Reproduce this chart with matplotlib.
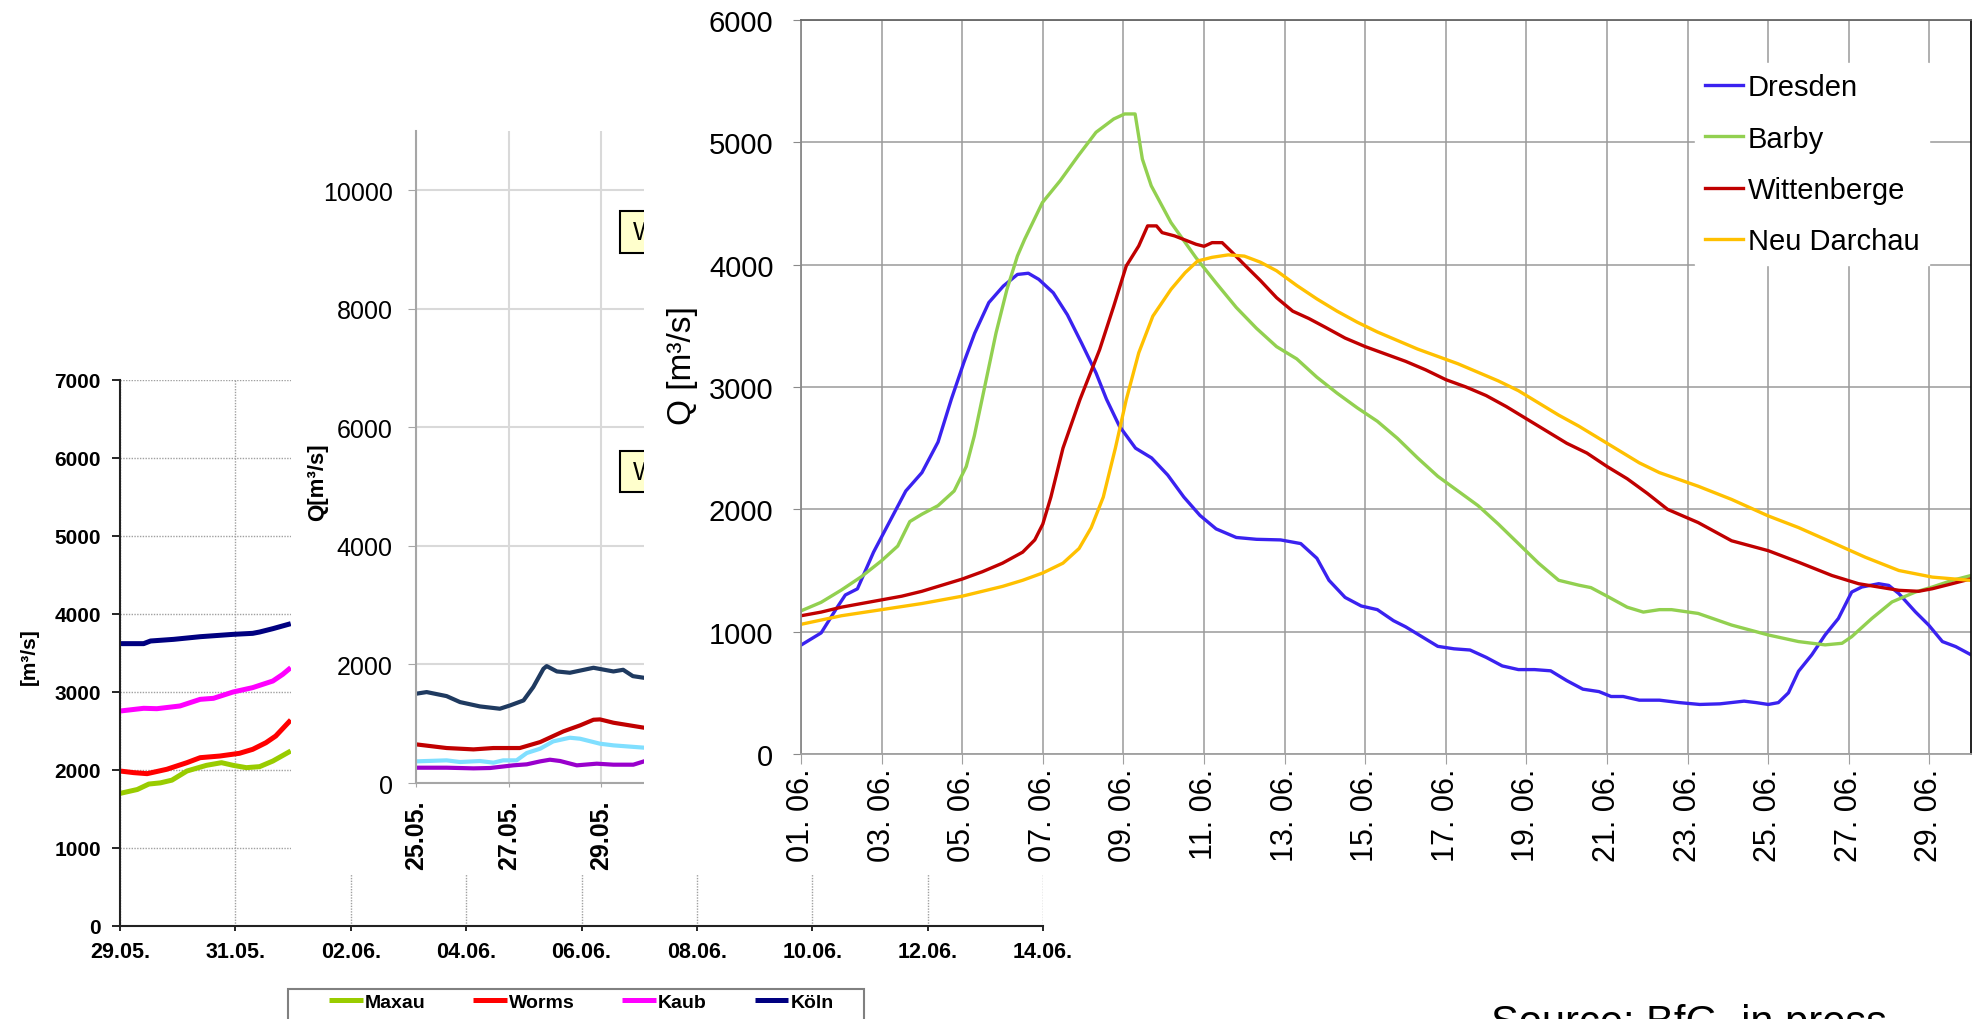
"""Composite of three flood hydrographs (Rhine, inset, Elbe), pasted over each other."""
import matplotlib
matplotlib.use("Agg")
import matplotlib.pyplot as plt
from matplotlib.patches import Rectangle

plt.rcParams["font.family"] = ["Liberation Sans", "DejaVu Sans"]

# ---- left panel: Rhine gauges, days after 29.05. (only the visible part) ----
rhine_tick_days = [0, 2, 4, 6, 8, 10, 12, 14, 16]
rhine_tick_labels = ["29.05.", "31.05.", "02.06.", "04.06.", "06.06.",
                     "08.06.", "10.06.", "12.06.", "14.06."]
maxau_t = [0, 0.3, 0.5, 0.7, 0.9, 1.16, 1.5, 1.76, 1.96, 2.19, 2.42, 2.65, 2.96]
maxau_q = [1700, 1750, 1820, 1835, 1870, 1987, 2060, 2094, 2060, 2030, 2043, 2115, 2244]
worms_t = [0, 0.24, 0.47, 0.81, 1.16, 1.39, 1.73, 2.07, 2.30, 2.53, 2.70, 2.96]
worms_q = [1987, 1966, 1953, 2009, 2094, 2158, 2179, 2214, 2265, 2350, 2436, 2641]
kaub_t = [0, 0.41, 0.64, 1.04, 1.39, 1.62, 1.96, 2.30, 2.65, 2.82, 2.96]
kaub_q = [2756, 2791, 2786, 2821, 2906, 2919, 3000, 3056, 3141, 3226, 3312]
koeln_t = [0, 0.41, 0.53, 0.93, 1.39, 1.96, 2.30, 2.42, 2.65, 2.96]
koeln_q = [3620, 3620, 3654, 3675, 3709, 3739, 3752, 3769, 3812, 3876]

# ---- middle panel: days after 25.05. ----
mid_tick_days = [0, 2, 4]
mid_tick_labels = ["25.05.", "27.05.", "29.05."]
mid_navy_t = [0, 0.23, 0.66, 0.95, 1.38, 1.81, 2.03, 2.32, 2.53, 2.75, 2.82,
              3.04, 3.32, 3.83, 4.26, 4.47, 4.68, 4.92]
mid_navy_q = [1506, 1534, 1466, 1365, 1292, 1253, 1309, 1393, 1618, 1927, 1972,
              1882, 1860, 1944, 1882, 1910, 1803, 1775]
mid_red_t = [0, 0.66, 1.24, 1.67, 2.24, 2.68, 3.18, 3.54, 3.83, 3.97, 4.26, 4.92]
mid_red_q = [652, 590, 567, 590, 590, 691, 871, 972, 1067, 1073, 1017, 933]
mid_sky_t = [0, 0.66, 0.95, 1.38, 1.67, 1.88, 2.17, 2.39, 2.68, 2.96, 3.32,
             3.54, 3.97, 4.26, 4.92]
mid_sky_q = [365, 382, 354, 371, 343, 382, 382, 506, 579, 702, 764, 747, 663, 635, 596]
mid_purple_t = [0, 0.66, 1.24, 1.60, 2.10, 2.39, 2.68, 2.89, 3.11, 3.47, 3.90,
                4.26, 4.69, 4.92]
mid_purple_q = [258, 258, 247, 253, 298, 315, 365, 393, 371, 298, 326, 309, 309, 365]

# ---- right panel: Elbe gauges, days after 01.06. ----
elbe_tick_days = list(range(0, 29, 2))
elbe_tick_labels = ["01. 06.", "03. 06.", "05. 06.", "07. 06.", "09. 06.",
                    "11. 06.", "13. 06.", "15. 06.", "17. 06.", "19. 06.",
                    "21. 06.", "23. 06.", "25. 06.", "27. 06.", "29. 06."]
dresden_t = [0, 0.5, 0.9, 1.1, 1.4, 1.8, 2.2, 2.6, 3.0, 3.4, 3.73, 4.04, 4.31,
             4.66, 5.02, 5.37, 5.64, 5.9, 6.26, 6.61, 6.96, 7.32, 7.58, 7.9, 8.3,
             8.7, 9.1, 9.5, 9.9, 10.3, 10.8, 11.3, 11.9, 12.4, 12.8, 13.1, 13.5,
             13.9, 14.3, 14.7, 15.0, 15.4, 15.8, 16.2, 16.6, 17.0, 17.4, 17.8,
             18.2, 18.6, 19.0, 19.4, 19.8, 20.1, 20.4, 20.8, 21.3, 21.8, 22.3,
             22.8, 23.4, 23.7, 24.0, 24.25, 24.5, 24.75, 25.08, 25.41, 25.74,
             26.07, 26.32, 26.74, 26.99, 27.24, 27.65, 27.98, 28.32, 28.65, 29.03]
dresden_q = [890, 990, 1200, 1300, 1350, 1650, 1900, 2150, 2300, 2550, 2900, 3200,
             3440, 3690, 3825, 3920, 3930, 3880, 3770, 3590, 3360, 3115, 2900,
             2680, 2500, 2420, 2280, 2100, 1950, 1840, 1770, 1755, 1750, 1720,
             1600, 1420, 1280, 1210, 1180, 1090, 1040, 960, 880, 860, 850, 790,
             720, 690, 690, 680, 600, 530, 510, 470, 470, 440, 440, 420, 405, 410,
             432, 420, 405, 420, 500, 676, 811, 973, 1108, 1324, 1365, 1392, 1378,
             1311, 1162, 1054, 919, 878, 811]
barby_t = [0, 0.5, 1.0, 1.5, 2.0, 2.4, 2.7, 3.0, 3.4, 3.8, 4.1, 4.3, 4.49, 4.84,
           5.11, 5.37, 5.55, 5.99, 6.43, 6.88, 7.32, 7.76, 8.03, 8.29, 8.47, 8.69,
           9.18, 9.8, 10.3, 10.8, 11.3, 11.8, 12.3, 12.8, 13.3, 13.8, 14.3, 14.8,
           15.3, 15.8, 16.3, 16.8, 17.3, 17.8, 18.3, 18.8, 19.3, 19.6, 20.0, 20.5,
           20.9, 21.3, 21.6, 22.26, 23.09, 24.0, 24.75, 25.41, 25.83, 26.07,
           26.57, 27.07, 27.65, 28.07, 28.56, 29.03]
barby_q = [1170, 1240, 1340, 1450, 1580, 1700, 1900, 1960, 2030, 2150, 2350, 2600,
           2896, 3443, 3798, 4071, 4208, 4508, 4686, 4891, 5082, 5191, 5232, 5232,
           4863, 4645, 4344, 4057, 3850, 3650, 3480, 3330, 3230, 3080, 2950, 2830,
           2720, 2580, 2420, 2270, 2150, 2030, 1880, 1720, 1560, 1420, 1380, 1360,
           1290, 1200, 1160, 1180, 1180, 1149, 1054, 973, 919, 892, 905, 959,
           1108, 1243, 1324, 1365, 1419, 1459]
wittenberge_t = [0, 0.5, 1, 1.5, 2, 2.5, 3, 3.5, 4, 4.5, 5, 5.5, 5.8, 6.0, 6.2,
                 6.5, 6.92, 7.41, 7.76, 8.07, 8.38, 8.6, 8.82, 8.96, 9.27, 9.8,
                 10.0, 10.2, 10.45, 10.7, 11.0, 11.4, 11.8, 12.2, 12.6, 13.0, 13.5,
                 14.0, 14.5, 15.0, 15.5, 16.0, 16.5, 17.0, 17.5, 18.0, 18.5, 19.0,
                 19.5, 20.0, 20.5, 21.0, 21.5, 22.26, 23.09, 24.0, 24.75, 25.58,
                 26.24, 26.74, 27.24, 27.73, 28.07, 28.56, 29.03]
wittenberge_q = [1130, 1160, 1200, 1230, 1260, 1290, 1330, 1380, 1430, 1490, 1560,
                 1650, 1750, 1880, 2100, 2500, 2896, 3306, 3661, 3989, 4153, 4317,
                 4317, 4262, 4235, 4167, 4150, 4180, 4180, 4100, 4000, 3870, 3730,
                 3620, 3560, 3490, 3400, 3330, 3270, 3210, 3140, 3060, 3000, 2930,
                 2840, 2740, 2640, 2540, 2460, 2350, 2250, 2130, 2000, 1892, 1743,
                 1662, 1568, 1459, 1392, 1365, 1338, 1330, 1351, 1392, 1432]
darchau_t = [0, 1, 2, 3, 4, 5, 5.5, 6.0, 6.5, 6.9, 7.2, 7.5, 7.8, 8.07, 8.38,
             8.73, 9.18, 9.53, 9.84, 10.2, 10.6, 11.0, 11.4, 11.8, 12.3, 12.8,
             13.3, 13.8, 14.3, 14.8, 15.3, 15.8, 16.3, 16.8, 17.3, 17.8, 18.3,
             18.8, 19.3, 19.8, 20.3, 20.8, 21.3, 22.26, 23.09, 24.0, 24.75, 25.58,
             26.41, 27.24, 28.07, 29.03]
darchau_q = [1060, 1130, 1180, 1230, 1290, 1370, 1420, 1480, 1560, 1680, 1850, 2100,
             2500, 2896, 3279, 3579, 3798, 3934, 4030, 4060, 4080, 4070, 4020, 3950,
             3830, 3720, 3620, 3530, 3450, 3380, 3310, 3250, 3190, 3120, 3050, 2970,
             2870, 2770, 2680, 2580, 2480, 2380, 2300, 2189, 2081, 1946, 1851, 1730,
             1608, 1500, 1446, 1419]

W, H = 1980, 1020


def box(x0, y0, x1, y1):
    """Pixel box (top-left origin) -> figure fraction [l, b, w, h]."""
    return [x0 / W, 1 - y1 / H, (x1 - x0) / W, (y1 - y0) / H]


def cover(x0, y0, x1, y1, z):
    fig.add_artist(Rectangle((x0 / W, 1 - y1 / H), (x1 - x0) / W, (y1 - y0) / H,
                             transform=fig.transFigure, facecolor="white",
                             edgecolor="none", zorder=z))


fig = plt.figure(figsize=(W / 100, H / 100), dpi=100)

# ---------------- left panel ----------------
ax_l = fig.add_axes(box(120, 381, 1043, 927))
ax_l.set_zorder(1)
for t, q, c, name in [(maxau_t, maxau_q, "#99cc00", "Maxau"),
                      (worms_t, worms_q, "#ff0000", "Worms"),
                      (kaub_t, kaub_q, "#ff00ff", "Kaub"),
                      (koeln_t, koeln_q, "#000080", "Köln")]:
    ax_l.plot(t, q, color=c, lw=3.6, label=name, solid_capstyle="butt")
ax_l.set_xlim(0, 16)
ax_l.set_ylim(0, 7000)
ax_l.set_xticks(rhine_tick_days, rhine_tick_labels)
ax_l.set_yticks(range(0, 7001, 1000))
ax_l.grid(True, color="#a0a0a0", lw=1, ls=(0, (1, 1)))
for s in ("top", "right"):
    ax_l.spines[s].set_visible(False)
for s in ("left", "bottom"):
    ax_l.spines[s].set_color("#222222")
    ax_l.spines[s].set_linewidth(1.5)
ax_l.tick_params(axis="y", length=5.8, width=1.2, pad=8, labelsize=15)
ax_l.tick_params(axis="x", length=3.6, width=1.2, pad=7, labelsize=15.5)
for lab in ax_l.get_xticklabels() + ax_l.get_yticklabels():
    lab.set_fontweight("bold")
ax_l.set_ylabel("[m³/s]", fontsize=15, fontweight="bold", va="center")
ax_l.yaxis.set_label_coords(-0.0986, 0.4945)
ax_l.legend(loc="upper left", bbox_to_anchor=(329 / W, 1 - 994 / H),
            bbox_transform=fig.transFigure, ncol=4, frameon=False,
            borderpad=0, borderaxespad=0, handlelength=1.74, handletextpad=0.1,
            columnspacing=2.45, prop={"size": 14, "weight": "bold"})
fig.add_artist(Rectangle((288 / W, 1 - 1040 / H), (864 - 288) / W, 50 / H,
                         transform=fig.transFigure, facecolor="none",
                         edgecolor="#808080", lw=1.5, zorder=1.5))

# ---------------- middle panel ----------------
cover(291, 0, 644, 875, 2)
ax_m = fig.add_axes(box(416, 132, 644, 784))
ax_m.set_zorder(3)
for t, q, c in [(mid_navy_t, mid_navy_q, "#1f3a60"),
                (mid_red_t, mid_red_q, "#c00000"),
                (mid_sky_t, mid_sky_q, "#80dfff"),
                (mid_purple_t, mid_purple_q, "#9900cc")]:
    ax_m.plot(t, q, color=c, lw=3)
ax_m.set_xlim(0, 4.92)
ax_m.set_ylim(0, 11000)
ax_m.set_xticks(mid_tick_days, mid_tick_labels, rotation=90, fontweight="bold")
ax_m.set_yticks(range(0, 10001, 2000))
ax_m.grid(True, color="#d9d9d9", lw=1.5)
ax_m.set_axisbelow(True)
for s in ("top", "right"):
    ax_m.spines[s].set_visible(False)
for s in ("left", "bottom"):
    ax_m.spines[s].set_color("#a6a6a6")
    ax_m.spines[s].set_linewidth(1.5)
ax_m.tick_params(axis="y", length=5.8, color="#a6a6a6", pad=11, labelsize=18)
ax_m.tick_params(axis="x", length=3, color="#a6a6a6", pad=9, labelsize=18)
ax_m.set_ylabel("Q[m³/s]", fontsize=16, fontweight="bold", va="center")
ax_m.yaxis.set_label_coords(-0.43, 0.463)
for y0, y1 in [(8941, 9650), (4909, 5601)]:
    ax_m.add_patch(Rectangle((4.41, y0), 2.0, y1 - y0, facecolor="#ffffcc",
                             edgecolor="black", lw=1.5, zorder=4))
    ax_m.text(4.69, (y0 + y1) / 2, "W", fontsize=18, va="center", ha="left",
              zorder=5, clip_on=True)

# ---------------- right panel ----------------
cover(644, 0, W, 875, 4)
ax_r = fig.add_axes(box(801, 21, 1971, 755))
ax_r.set_zorder(5)
lines = []
for t, q, c, name in [(dresden_t, dresden_q, "#3a22f0", "Dresden"),
                      (barby_t, barby_q, "#92d050", "Barby"),
                      (wittenberge_t, wittenberge_q, "#c00000", "Wittenberge"),
                      (darchau_t, darchau_q, "#ffc000", "Neu Darchau")]:
    lines += ax_r.plot(t, q, color=c, lw=2.4, label=name)
ax_r.set_xlim(0, 29.03)
ax_r.set_ylim(0, 6000)
ax_r.set_xticks(elbe_tick_days, elbe_tick_labels, rotation=90)
ax_r.set_yticks(range(0, 6001, 1000))
ax_r.grid(True, color="#9a9a9a", lw=1.1)
ax_r.set_axisbelow(True)
ax_r.spines["left"].set_color("#8a8a8a")
ax_r.spines["bottom"].set_color("#a0a0a0")
ax_r.spines["top"].set_color("#666666")
ax_r.spines["right"].set_color("#111111")
for s in ax_r.spines.values():
    s.set_linewidth(1.3)
ax_r.tick_params(axis="y", length=5.8, color="#8a8a8a", pad=14, labelsize=21)
ax_r.tick_params(axis="x", length=7, color="#a0a0a0", pad=3, labelsize=22)
ax_r.set_ylabel("Q [m³/s]", fontsize=24, va="center")
ax_r.yaxis.set_label_coords(-0.1017, 0.53)
leg = ax_r.legend(handles=lines, loc="upper left",
                  bbox_to_anchor=(1695 / W, 1 - 64 / H),
                  bbox_transform=fig.transFigure, fontsize=21, borderpad=0.35,
                  borderaxespad=0, handlelength=1.31, handletextpad=0.14,
                  labelspacing=0.8, fancybox=False, framealpha=1)
leg.get_frame().set_edgecolor("white")

fig.text(1491 / W, 1 - 1035 / H, "Source: BfG, in press", fontsize=30,
         ha="left", va="baseline")

fig.savefig("out.png", dpi=100)
